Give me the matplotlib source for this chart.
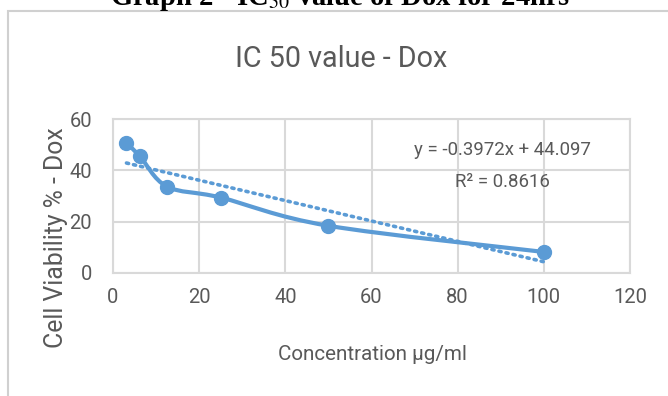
import numpy as np
import matplotlib
matplotlib.use("Agg")
import matplotlib.pyplot as plt
from matplotlib.patches import Rectangle, PathPatch
from matplotlib.path import Path

plt.rcParams["mathtext.fontset"] = "stix"

# Data
conc = [3.125, 6.25, 12.5, 25, 50, 100]
viability = [50.6, 45.5, 33.7, 29.4, 18.4, 8.2]
slope = -0.3972
intercept = 44.097
eq_text = "y = -0.3972x + 44.097"
r2_text = "R² = 0.8616"
title = "IC 50 value - Dox"
heading = "Graph 2 - IC$_{50}$ value of Dox for 24hrs"
xlabel = "Concentration μg/ml"
ylabel = "Cell Viability % - Dox"
xticks = [0, 20, 40, 60, 80, 100, 120]
yticks = [0, 20, 40, 60]

BLUE = "#5B9BD5"
GRAY_TXT = "#595959"
GRID = "#d9d9d9"
SANS = ["Roboto", "DejaVu Sans"]

fig = plt.figure(figsize=(6.68, 3.96), dpi=100)
renderer = fig.canvas.get_renderer()


def fit(txt, target_px, horizontal=True):
    """Scale font size so the text's extent matches the target pixel length."""
    for _ in range(3):
        bb = txt.get_window_extent(renderer)
        cur = bb.width if horizontal else bb.height
        if cur > 0:
            txt.set_fontsize(txt.get_fontsize() * target_px / cur)
    return txt


# chart frame
fig.patches.append(Rectangle((8/668, -0.01), 1.0, 1 - 11/396 + 0.01, transform=fig.transFigure,
                             fill=False, edgecolor="#d0d0d0", linewidth=1.5))
h = fig.text(340/668, 1 - 5/396, heading, ha="center", va="baseline", fontsize=20,
             fontweight="bold", family=["Liberation Serif", "DejaVu Serif"], color="black")
fit(h, 460)

ax = fig.add_axes([113/668, 1 - 273/396, (630 - 113)/668, (273 - 119)/396])
ax.set_xlim(0, 120)
ax.set_ylim(0, 60)
ax.set_xticks(xticks)
ax.set_yticks(yticks)
ax.grid(True, color=GRID, linewidth=1.5)
ax.set_axisbelow(True)
for s in ax.spines.values():
    s.set_color(GRID)
    s.set_linewidth(1.5)
ax.tick_params(axis="x", length=0, pad=11)
ax.tick_params(axis="y", length=0, pad=15)
probe = fig.text(0, 0, "100", family=SANS, fontsize=14)
fit(probe, 34)
tick_fs = probe.get_fontsize()
probe.remove()
for lab in ax.get_xticklabels() + ax.get_yticklabels():
    lab.set_family(SANS)
    lab.set_fontsize(tick_fs)
    lab.set_color(GRAY_TXT)

# smoothed line (Bezier, Excel-like)
pts = np.column_stack([conc, viability]).astype(float)
n = len(pts)
verts = [tuple(pts[0])]
codes = [Path.MOVETO]
t = 1 / 6
for i in range(n - 1):
    p0 = pts[i - 1] if i > 0 else pts[i]
    p1 = pts[i]
    p2 = pts[i + 1]
    p3 = pts[i + 2] if i + 2 < n else pts[i + 1]
    c1 = p1 + (p2 - p0) * t
    c2 = p2 - (p3 - p1) * t
    verts += [tuple(c1), tuple(c2), tuple(p2)]
    codes += [Path.CURVE4] * 3
ax.add_patch(PathPatch(Path(verts, codes), fill=False, edgecolor=BLUE, linewidth=3,
                       capstyle="round", zorder=3))
ax.plot(conc, viability, "o", color=BLUE, markersize=10, zorder=4)

# trendline
xt = np.array([conc[0], conc[-1]])
ax.plot(xt, slope * xt + intercept, linestyle=(0, (0.6, 1.4)), color=BLUE,
        linewidth=2.6, dash_capstyle="round", zorder=3)

e = fig.text(502/668, 1 - 150/396, eq_text, ha="center", va="center",
             fontsize=14, color=GRAY_TXT, family=SANS)
fit(e, 177)
r = fig.text(502/668, 1 - 182/396, r2_text, ha="center", va="center",
             fontsize=14, color=GRAY_TXT, family=SANS)
r.set_fontsize(e.get_fontsize())

tt = fig.text(341/668, 1 - 59/396, title, ha="center", va="center", fontsize=26,
              color=GRAY_TXT, family=SANS)
fit(tt, 212)
xl = fig.text(372/668, 1 - 354/396, xlabel, ha="center", va="center", fontsize=17,
              color=GRAY_TXT, family=SANS)
fit(xl, 189)
yl = fig.text(56/668, 1 - 238/396, ylabel, ha="center", va="center", rotation=90, fontsize=17,
              color=GRAY_TXT, family=SANS)
fit(yl, 220, horizontal=False)

fig.savefig("out.png", dpi=100)
